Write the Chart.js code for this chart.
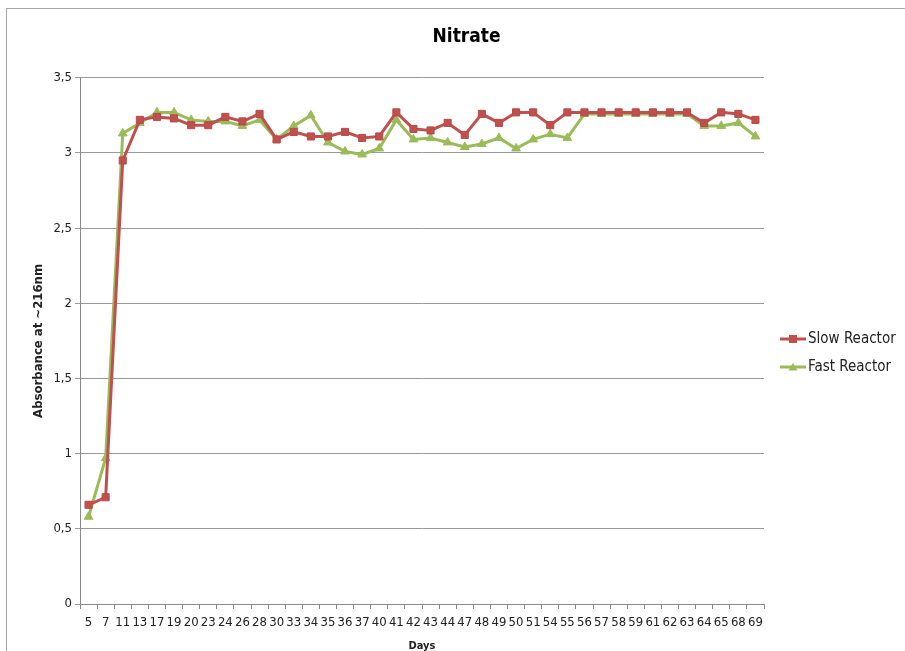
<!DOCTYPE html>
<html>
<head>
<meta charset="utf-8">
<script src="https://cdn.jsdelivr.net/npm/chart.js@4.4.0/dist/chart.umd.min.js"></script>
<style>
  html, body { margin: 0; padding: 0; background: #fff; }
  #wrap { width: 905px; height: 651px; }
</style>
</head>
<body>
<div id="wrap"><canvas id="nitrateChart" width="905" height="651"></canvas></div>
<script>
// days (categories)
const days = [5, 7, 11, 13, 17, 19, 20, 23, 24, 26, 28, 30, 33, 34, 35, 36, 37, 40, 41, 42,
  43, 44, 47, 48, 49, 50, 51, 54, 55, 56, 57, 58, 59, 61, 62, 63, 64, 65, 68, 69];

const slowReactor = [0.66, 0.71, 2.95, 3.22, 3.24, 3.23, 3.185, 3.185, 3.24, 3.21, 3.26, 3.09, 3.14, 3.11, 3.11, 3.14, 3.10, 3.11, 3.27, 3.16,
  3.15, 3.20, 3.12, 3.26, 3.20, 3.27, 3.27, 3.185, 3.27, 3.27, 3.27, 3.27, 3.27, 3.27, 3.27, 3.27, 3.20, 3.27, 3.26, 3.22];

const fastReactor = [0.58, 0.97, 3.13, 3.20, 3.27, 3.27, 3.22, 3.21, 3.21, 3.18, 3.22, 3.09, 3.18, 3.25, 3.07, 3.01, 2.99, 3.03, 3.22, 3.09,
  3.10, 3.07, 3.04, 3.06, 3.10, 3.03, 3.09, 3.125, 3.10, 3.26, 3.26, 3.26, 3.26, 3.26, 3.26, 3.26, 3.18, 3.18, 3.20, 3.11];

const yTicks = [0, 0.5, 1, 1.5, 2, 2.5, 3, 3.5];

const FONT = "'DejaVu Sans Condensed', 'Open Sans', sans-serif";
const RED = '#C0504D';
const GREEN = '#9BBB59';

// fond blanc + cadre + légende à droite
const frameLegend = {
  id: 'frameLegend',
  beforeDraw(chart) {
    const ctx = chart.ctx;
    ctx.save();
    ctx.fillStyle = '#fff';
    ctx.fillRect(0, 0, chart.width, chart.height);
    ctx.strokeStyle = '#a8a8a8';
    ctx.lineWidth = 1;
    ctx.strokeRect(6.5, 8.5, chart.width, chart.height);
    ctx.restore();
  },
  afterDraw(chart) {
    const ctx = chart.ctx;
    ctx.save();
    chart.data.datasets.forEach((ds, i) => {
      const y = 339 + i * 28;
      ctx.strokeStyle = ds.borderColor;
      ctx.lineWidth = 3;
      ctx.beginPath();
      ctx.moveTo(780, y);
      ctx.lineTo(806, y);
      ctx.stroke();
      ctx.fillStyle = ds.borderColor;
      ctx.beginPath();
      if (ds.pointStyle === 'rect') {
        ctx.rect(789, y - 4, 8, 8);
      } else {
        ctx.moveTo(793, y - 4);
        ctx.lineTo(797.5, y + 3.5);
        ctx.lineTo(788.5, y + 3.5);
        ctx.closePath();
      }
      ctx.fill();
      ctx.fillStyle = '#222';
      ctx.font = '15px ' + FONT;
      ctx.textBaseline = 'middle';
      ctx.fillText(ds.label, 808, y);
    });
    ctx.restore();
  }
};

new Chart(document.getElementById('nitrateChart'), {
  type: 'line',
  data: {
    labels: days,
    datasets: [
      {
        label: 'Slow Reactor',
        data: slowReactor,
        borderColor: RED,
        backgroundColor: RED,
        borderWidth: 3,
        pointStyle: 'rect',
        pointRadius: 5,
        pointBorderColor: '#b84a47',
        pointBackgroundColor: RED,
        pointBorderWidth: 1,
        tension: 0
      },
      {
        label: 'Fast Reactor',
        data: fastReactor,
        borderColor: GREEN,
        backgroundColor: GREEN,
        borderWidth: 3,
        pointStyle: 'triangle',
        pointRadius: 5,
        pointBorderColor: GREEN,
        pointBackgroundColor: GREEN,
        pointBorderWidth: 1,
        tension: 0
      }
    ]
  },
  options: {
    responsive: false,
    animation: false,
    layout: { padding: { left: 28, right: 0, top: 0, bottom: 0 } },
    plugins: {
      legend: { display: false },
      tooltip: { enabled: false },
      title: {
        display: true,
        text: 'Nitrate',
        color: '#000',
        font: { family: FONT, size: 19, weight: 'bold', lineHeight: 1.2 },
        padding: { top: 26, bottom: 29 }
      }
    },
    scales: {
      x: {
        type: 'category',
        offset: true,
        afterFit(scale) { scale.height = 47; },
        grid: {
          display: true,
          offset: true,
          drawOnChartArea: false,
          drawTicks: true,
          tickLength: 5,
          color: '#888'
        },
        border: { display: true, color: '#888', width: 1 },
        ticks: {
          autoSkip: false,
          maxRotation: 0,
          color: '#222',
          padding: 6,
          font: { family: FONT, size: 13 }
        },
        title: {
          display: true,
          text: 'Days',
          color: '#222',
          font: { family: FONT, size: 11, weight: 'bold' },
          padding: { top: 0, bottom: -2 }
        }
      },
      y: {
        min: 0,
        max: 3.5,
        afterFit(scale) { scale.width = 80 - 28; },
        afterBuildTicks(scale) { scale.ticks = yTicks.map(v => ({ value: v })); },
        grid: {
          color: '#9a9a9a',
          lineWidth: 1,
          drawTicks: true,
          tickLength: 5
        },
        border: { display: true, color: '#888', width: 1 },
        ticks: {
          color: '#222',
          padding: 3,
          font: { family: FONT, size: 13 },
          callback: v => String(v).replace('.', ',')
        },
        title: {
          display: true,
          text: 'Absorbance at ~216nm',
          color: '#222',
          font: { family: FONT, size: 13, weight: 'bold' },
          padding: { top: 3, bottom: 0 }
        }
      },
      // espace réservé pour la légende à droite
      legendSpace: {
        position: 'right',
        display: true,
        afterFit(scale) { scale.width = 905 - 764; },
        grid: { display: false },
        border: { display: false },
        ticks: { display: false }
      }
    }
  },
  plugins: [frameLegend]
});
</script>
</body>
</html>
